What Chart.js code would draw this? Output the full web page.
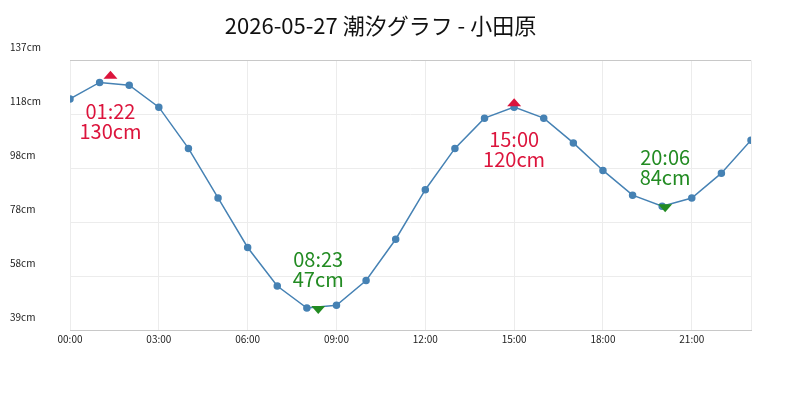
<!DOCTYPE html>
<html><head><meta charset="utf-8">
<script src="https://cdn.jsdelivr.net/npm/chart.js@4"></script>
<style>body{margin:0}#w{width:800px;height:400px}</style></head>
<body><div id="w"><canvas id="c"></canvas></div>
<script>
const hours = [0,1,2,3,4,5,6,7,8,9,10,11,12,13,14,15,16,17,18,19,20,21,22,23];
const levels = [123,129,128,120,105,87,69,55,47,48,57,72,90,105,116,120,116,107,97,88,84,87,96,108];
const highTimes = [1+22/60, 15];
const highLevels = [130, 120];
const highLabels = ['01:22\n130cm','15:00\n120cm'];
const lowTimes = [8+23/60, 20+6/60];
const lowLevels = [47, 84];
const lowLabels = ['08:23\n47cm','20:06\n84cm'];
const xTickLabels = {0:'00:00',3:'03:00',6:'06:00',9:'09:00',12:'12:00',15:'15:00',18:'18:00',21:'21:00'};
const yTickLabels = ['39cm','58cm','78cm','98cm','118cm','137cm'];
const F = "'Noto Sans CJK JP','Noto Sans',sans-serif";
const labelPlugin = {
  id:'lbl',
  afterDatasetsDraw(chart){
    const ctx=chart.ctx, xs=chart.scales.x, ys=chart.scales.y;
    ctx.save(); ctx.font="20px "+F; ctx.textAlign='center'; ctx.textBaseline='middle';
    highTimes.forEach((t,i)=>{const x=xs.getPixelForValue(t),y=ys.getPixelForValue(highLevels[i]);
      ctx.fillStyle='#dc143c';
      ctx.beginPath();ctx.moveTo(x,y-9);ctx.lineTo(x+7,y-1);ctx.lineTo(x-7,y-1);ctx.closePath();ctx.fill();
      highLabels[i].split('\n').forEach((s,j)=>ctx.fillText(s,x,y+32+j*20));});
    lowTimes.forEach((t,i)=>{const x=xs.getPixelForValue(t),y=ys.getPixelForValue(lowLevels[i]);
      ctx.fillStyle='#228b22';
      ctx.beginPath();ctx.moveTo(x-7,y-2);ctx.lineTo(x+7,y-2);ctx.lineTo(x,y+6);ctx.closePath();ctx.fill();
      lowLabels[i].split('\n').forEach((s,j)=>ctx.fillText(s,x,y-49+j*20));});
    ctx.restore();
  }
};
new Chart(document.getElementById('c'),{
  type:'line',
  data:{datasets:[
    {data:hours.map((h,i)=>({x:h,y:levels[i]})),borderColor:'#4682b4',backgroundColor:'#4682b4',borderWidth:1.5,pointRadius:3,pointHoverRadius:3,tension:0}
  ]},
  options:{
    responsive:true,maintainAspectRatio:false,animation:false,
    layout:{padding:{left:10,right:49,bottom:52,top:0}},
    plugins:{legend:{display:false},tooltip:{enabled:false},
      title:{display:true,text:'2026-05-27 潮汐グラフ - 小田原',color:'#111',font:{family:F,size:22,weight:'normal'},padding:{top:12,bottom:22}}},
    scales:{
      x:{type:'linear',min:0,max:23,
        ticks:{stepSize:3,autoSkip:false,color:'#222',font:{family:F,size:10},callback:v=>xTickLabels[v]??''},
        grid:{color:'#ececec',drawTicks:false},border:{color:'#c8c8c8'}},
      y:{min:39,max:137,afterBuildTicks:s=>{s.ticks=yTickLabels.map((_,i)=>({value:39+i*19.6}));},
        afterFit:s=>{s.width=60;},
        ticks:{color:'#222',font:{family:F,size:10},labelOffset:-13,crossAlign:'far',padding:0,callback:(v,i)=>yTickLabels[i]},
        grid:{color:c=>c.index===5?'#c8c8c8':'#ececec',drawTicks:false},border:{display:false}}
    }
  },
  plugins:[labelPlugin]
});
</script></body></html>
